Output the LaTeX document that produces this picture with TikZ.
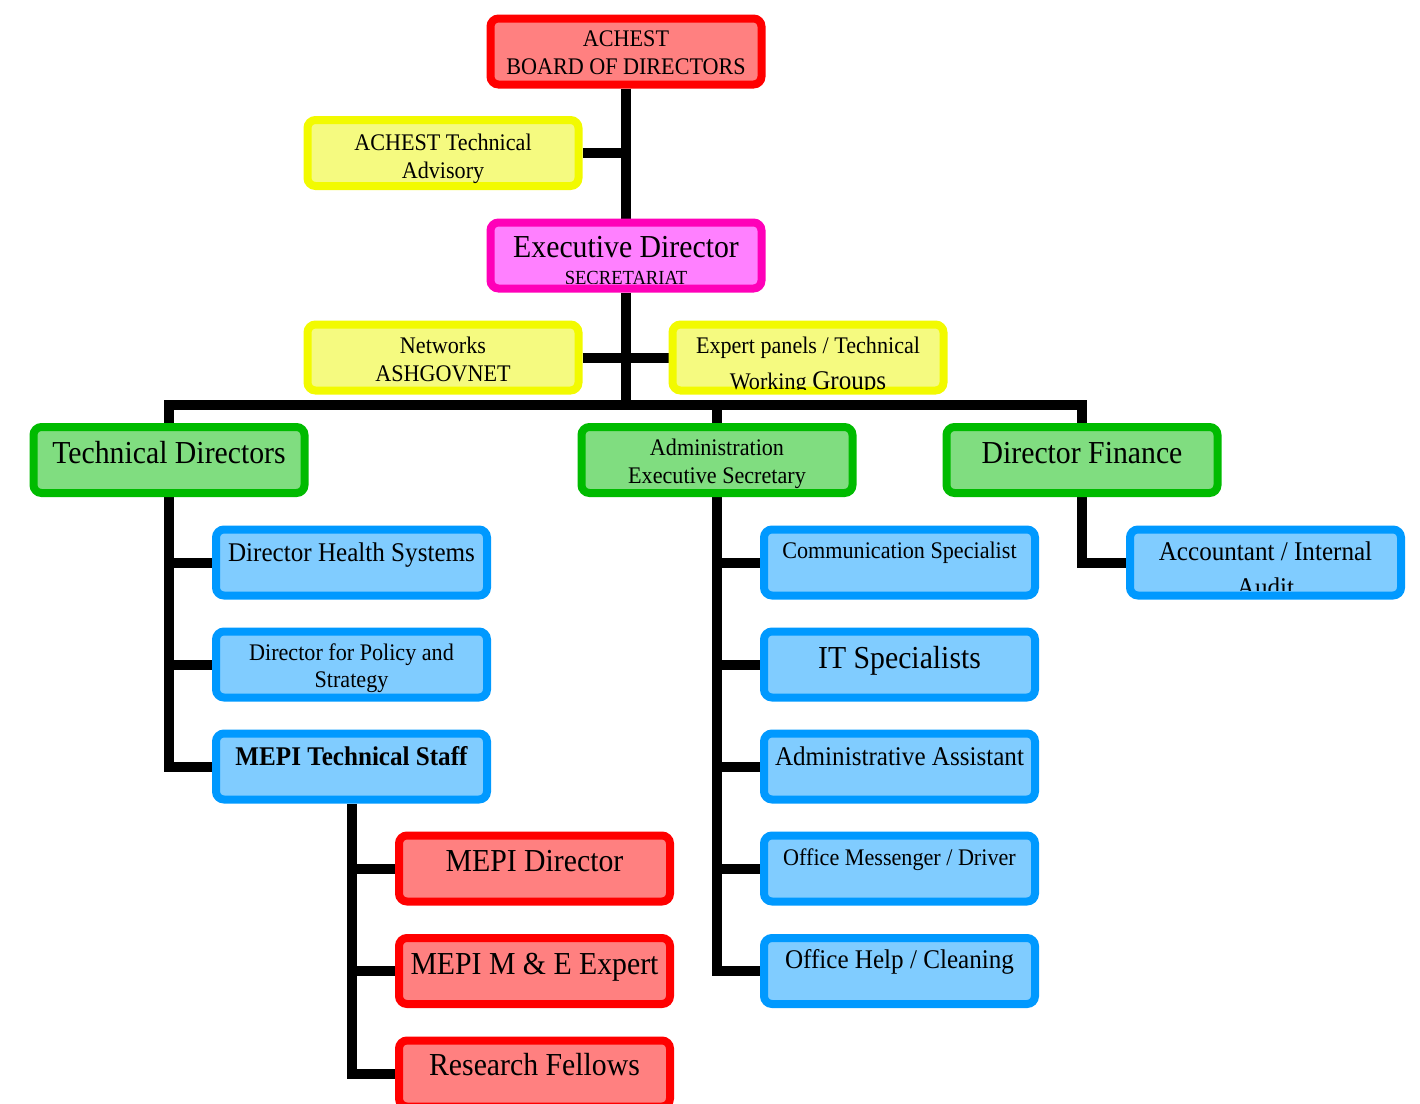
\documentclass[tikz,border=0pt]{standalone}
\usepackage{fontspec}
\setmainfont[FakeStretch=0.93]{Liberation Serif}
\usetikzlibrary{backgrounds}
\definecolor{redB}{RGB}{255,0,0}
\definecolor{redF}{RGB}{255,128,128}
\definecolor{yelB}{RGB}{242,250,0}
\definecolor{yelF}{RGB}{245,250,128}
\definecolor{magB}{RGB}{255,0,185}
\definecolor{magF}{RGB}{255,128,255}
\definecolor{grnB}{RGB}{0,187,0}
\definecolor{grnF}{RGB}{128,221,128}
\definecolor{bluB}{RGB}{0,153,255}
\definecolor{bluF}{RGB}{128,204,255}
\begin{document}
\begin{tikzpicture}[x=1pt,y=-1pt,
  box/.style={rectangle, rounded corners=8pt, line width=8pt, minimum width=271pt, minimum height=66pt, inner sep=0pt},
  redbox/.style={box, draw=redB, fill=redF},
  yelbox/.style={box, draw=yelB, fill=yelF},
  magbox/.style={box, draw=magB, fill=magF},
  grnbox/.style={box, draw=grnB, fill=grnF},
  blubox/.style={box, draw=bluB, fill=bluF},
  link/.style={line width=10pt, draw=black, line join=miter},
  txt/.style={anchor=base, inner sep=0pt, text=black},
  txtL/.style={txt, font=\fontsize{32}{38}\selectfont},
  txtM/.style={txt, font=\fontsize{27}{32}\selectfont},
  txtS/.style={txt, font=\fontsize{23.8}{28}\selectfont},
  txtXS/.style={txt, font=\fontsize{20}{24}\selectfont}]
\useasboundingbox (0,0) rectangle (1420,1103);
% boxes
\node[redbox] (board) at (626,51.5) {};
\node[yelbox] (adv) at (443,153) {};
\node[magbox] (exec) at (626,255.5) {};
\node[yelbox] (net) at (443,357.5) {};
\node[yelbox] (exp) at (808,357.5) {};
\node[grnbox] (td) at (169,460) {};
\node[grnbox] (adm) at (717,460) {};
\node[grnbox] (fin) at (1082,460) {};
\node[blubox] (dhs) at (351.5,562.5) {};
\node[blubox] (pol) at (351.5,664.5) {};
\node[blubox] (mts) at (351.5,766.5) {};
\node[redbox] (md) at (534.5,868.5) {};
\node[redbox] (me) at (534.5,971) {};
\node[redbox] (rf) at (534.5,1073.5) {};
\node[blubox] (com) at (899.5,562.5) {};
\node[blubox] (it) at (899.5,664.5) {};
\node[blubox] (aa) at (899.5,766.5) {};
\node[blubox] (om) at (899.5,868.5) {};
\node[blubox] (oh) at (899.5,971) {};
\node[blubox] (acc) at (1265.5,562.5) {};
% connectors
\begin{scope}[on background layer]
\coordinate (bus) at (626,404.5);
\draw[link] (board.south) -- (exec.north);
\draw[link] (adv.east) -- (adv.east -| board.south);
\draw[link] (exec.south) -- (bus);
\draw[link] (net.east) -- (exp.west);
\draw[link] (td.north) |- (bus) -| (fin.north);
\draw[link] (bus -| adm.north) -- (adm.north);
\draw[link] (td.south) |- (mts.west);
\draw[link] (td.south |- dhs.west) -- (dhs.west);
\draw[link] (td.south |- pol.west) -- (pol.west);
\draw[link] (mts.south) |- (rf.west);
\draw[link] (mts.south |- md.west) -- (md.west);
\draw[link] (mts.south |- me.west) -- (me.west);
\draw[link] (adm.south) |- (oh.west);
\draw[link] (adm.south |- com.west) -- (com.west);
\draw[link] (adm.south |- it.west) -- (it.west);
\draw[link] (adm.south |- aa.west) -- (aa.west);
\draw[link] (adm.south |- om.west) -- (om.west);
\draw[link] (fin.south) |- (acc.west);
\end{scope}
% texts
\node[txtS] (board-t1) at (626,46.7) {ACHEST};
\node[txtS] (board-t2) at (626,74.3) {BOARD OF DIRECTORS};
\node[txtS] (adv-t1) at (443,150) {ACHEST Technical};
\node[txtS] (adv-t2) at (443,178) {Advisory};
\node[txtL] (exec-t1) at (626,257.3) {Executive Director};
\begin{scope}
\clip (494,226) rectangle (758,283);
\node[txtXS] (exec-t2) at (626,284.2) {SECRETARIAT};
\end{scope}
\node[txtS] (net-t1) at (443,353.3) {Networks};
\node[txtS] (net-t2) at (443,381) {ASHGOVNET};
\node[txtS] (exp-t1) at (808,353.3) {Expert panels / Technical};
\begin{scope}
\clip (676,328) rectangle (940,389);
\node[txtS] (exp-t2) at (808,389.5) {Working {\fontsize{27}{32}\selectfont Groups}};
\end{scope}
\node[txtL] (td-t) at (169,463) {Technical Directors};
\node[txtS] (adm-t1) at (717,455) {Administration};
\node[txtS] (adm-t2) at (717,483.3) {Executive Secretary};
\node[txtL] (fin-t) at (1082,463.3) {Director Finance};
\node[txtM] (dhs-t) at (351.5,561.7) {Director Health Systems};
\node[txtS] (pol-t1) at (351.5,660) {Director for Policy and};
\node[txtS] (pol-t2) at (351.5,687) {Strategy};
\node[txtM] (mts-t) at (351.5,765) {\bfseries MEPI Technical Staff};
\node[txtL] (md-t) at (534.5,871.7) {MEPI Director};
\node[txtL] (me-t) at (534.5,974) {MEPI M \& E Expert};
\node[txtL] (rf-t) at (534.5,1075.7) {Research Fellows};
\node[txtS] (com-t) at (899.5,558.3) {Communication Specialist};
\node[txtL] (it-t) at (899.5,668.3) {IT Specialists};
\node[txtM] (aa-t) at (899.5,765) {Administrative Assistant};
\node[txtS] (om-t) at (899.5,865) {Office Messenger / Driver};
\node[txtM] (oh-t) at (899.5,968.3) {Office Help / Cleaning};
\node[txtM] (acc-t1) at (1265.5,560) {Accountant / Internal};
\begin{scope}
\clip (1134,533) rectangle (1398,590.5);
\node[txtM] (acc-t2) at (1265.5,596) {Audit};
\end{scope}
\end{tikzpicture}
\end{document}
